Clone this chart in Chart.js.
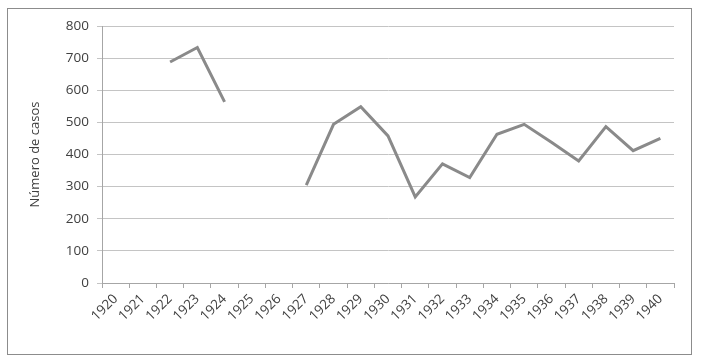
<!DOCTYPE html>
<html>
<head>
  <meta charset="utf-8">
  <title>Número de casos</title>
  <script src="https://cdn.jsdelivr.net/npm/chart.js"></script>
  <style>
    html, body { margin: 0; padding: 0; background: #fff; }
    #wrap { position: relative; width: 704px; height: 362px; }
    #frame { position: absolute; left: 7px; top: 8px; width: 683px; height: 345px; border: 1px solid #8c8c8c; }
    canvas { position: absolute; left: 0; top: 0; }
  </style>
</head>
<body>
  <div id="wrap">
    <div id="frame"></div>
    <canvas id="casos-chart" width="704" height="362"></canvas>
  </div>

  <script>
    // Datos
    var years = ['1920', '1921', '1922', '1923', '1924', '1925', '1926', '1927', '1928', '1929', '1930',
                 '1931', '1932', '1933', '1934', '1935', '1936', '1937', '1938', '1939', '1940'];
    var casos = [null, null, 688, 733, 564, null, null, 305, 494, 549, 458,
                 268, 371, 328, 463, 494, 438, 380, 487, 412, 450];
    var yTicks = [0, 100, 200, 300, 400, 500, 600, 700, 800];

    var textColor = '#404040';

    var config = {
      type: 'line',
      data: {
        labels: years,
        datasets: [{
          label: 'Número de casos',
          data: casos,
          borderColor: '#8a8a8a',
          borderWidth: 3,
          pointRadius: 0,
          tension: 0,
          spanGaps: false
        }]
      },
      options: {
        responsive: false,
        animation: false,
        layout: { padding: { left: 0, right: 30, top: 26, bottom: 0 } },
        plugins: {
          legend: { display: false },
          tooltip: { enabled: false }
        },
        scales: {
          x: {
            offset: true,
            grid: { display: true, offset: true, drawOnChartArea: false, drawTicks: true, tickLength: 5, color: '#a6a6a6' },
            border: { color: '#a6a6a6' },
            ticks: { color: textColor, font: { family: 'Open Sans', size: 13.5 }, maxRotation: 45, minRotation: 45, autoSkip: false, padding: 3 },
            afterFit: function (scale) { scale.height = 362 - 283; }
          },
          y: {
            min: 0,
            max: 800,
            afterBuildTicks: function (scale) { scale.ticks = yTicks.map(function (v) { return { value: v }; }); },
            grid: { color: '#c4c4c4', tickLength: 5, lineWidth: 1 },
            border: { color: '#a6a6a6' },
            ticks: { color: textColor, font: { family: 'Open Sans', size: 13.5 }, padding: 8 },
            title: { display: true, text: 'Número de casos', color: textColor, font: { family: 'Open Sans', size: 13 }, padding: { top: 27, bottom: 0 } },
            afterFit: function (scale) { scale.width = 102; }
          }
        }
      }
    };

    var ctx = document.getElementById('casos-chart').getContext('2d');
    var chart = new Chart(ctx, config);
  </script>
</body>
</html>
